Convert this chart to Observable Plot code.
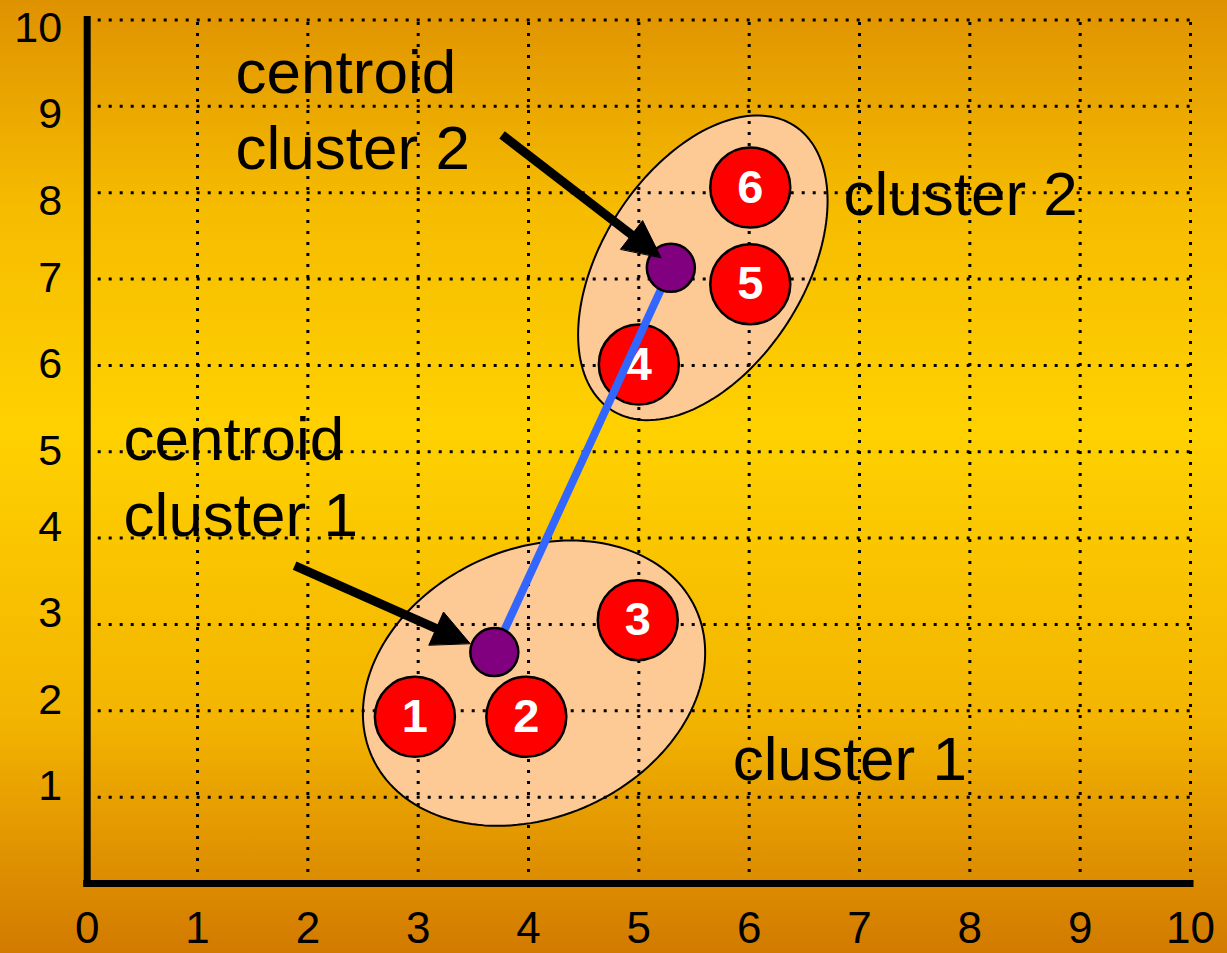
<!DOCTYPE html>
<html>
<head>
<meta charset="utf-8">
<script src="https://cdn.jsdelivr.net/npm/d3@7"></script>
<script src="https://cdn.jsdelivr.net/npm/@observablehq/plot@0.6"></script>
<style>
html, body { margin: 0; padding: 0; }
body { width: 1227px; height: 953px; overflow: hidden;
  background: linear-gradient(to bottom, #df9200 0%, #f6bc00 22%, #ffd100 45%, #f3b500 75%, #d27a00 100%); }
#chart svg { display: block; }
</style>
</head>
<body>
<div id="chart"></div>
<script>
// ---- data ----
const pointIds = [1, 2, 3, 4, 5, 6];
const pointX = [2.97, 3.98, 4.99, 5.0, 6.01, 6.01];
const pointY = [1.93, 1.93, 3.05, 6.01, 6.94, 8.06];

const centroidNames = ["cluster 1", "cluster 2"];
const centroidX = [3.69, 5.29];
const centroidY = [2.68, 7.13];

const ellipseNames = ["cluster 1", "cluster 2"];
const ellipseCX = [4.05, 5.58];
const ellipseCY = [2.32, 7.13];

const arrowX1 = [1.88, 3.76];
const arrowY1 = [3.68, 8.67];
const arrowX2 = [3.47, 5.20];
const arrowY2 = [2.78, 7.25];

const labelTexts = ["centroid\ncluster 1", "centroid\ncluster 2", "cluster 1", "cluster 2"];
const labelX = [0.33, 1.345, 5.85, 6.855];
const labelY = [4.03, 8.28, 1.20, 7.74];

const xTicks = [0, 1, 2, 3, 4, 5, 6, 7, 8, 9, 10];
const yTicks = [1, 2, 3, 4, 5, 6, 7, 8, 9, 10];

// ---- layout / styles ----
const W = 1227, H = 953;
const mL = 86.7, mR = 37, mT = 19.5, mB = 70;
const kx = (W - mL - mR) / 10;   // px per x unit
const ky = (H - mT - mB) / 10;   // px per y unit
const FONT = "Liberation Sans, Arial, Helvetica, sans-serif";

// ellipse shape in pixels (semi-axes, rotation in degrees counter-clockwise)
const ellipseShape = [{a: 178, b: 134, angle: 24.7}, {a: 169, b: 101, angle: 57.3}];

const points = pointIds.map((id, i) => ({id, x: pointX[i], y: pointY[i]}));
const centroids = centroidNames.map((n, i) => ({n, x: centroidX[i], y: centroidY[i]}));
const labels = labelTexts.map((t, i) => ({t, x: labelX[i], y: labelY[i]}));

// build ellipse outlines (geometry only)
const ellipsePts = [];
ellipseNames.forEach((name, i) => {
  const {a, b, angle} = ellipseShape[i];
  const th = angle * Math.PI / 180;
  for (let k = 0; k < 160; k++) {
    const t = 2 * Math.PI * k / 160;
    const dx = a * Math.cos(t) * Math.cos(th) - b * Math.sin(t) * Math.sin(th);
    const dy = a * Math.cos(t) * Math.sin(th) + b * Math.sin(t) * Math.cos(th);
    ellipsePts.push({id: name, x: ellipseCX[i] + dx / kx, y: ellipseCY[i] + dy / ky});
  }
});

// arrows: shaft + filled triangular head (geometry in px converted to data)
const headLen = 37, headHalf = 18;
const shafts = [], heads = [];
arrowX1.forEach((_, i) => {
  const px1 = arrowX1[i] * kx, py1 = arrowY1[i] * ky;
  const px2 = arrowX2[i] * kx, py2 = arrowY2[i] * ky;
  const L = Math.hypot(px2 - px1, py2 - py1);
  const ux = (px2 - px1) / L, uy = (py2 - py1) / L;
  const bx = px2 - ux * headLen, by = py2 - uy * headLen;
  shafts.push({x1: arrowX1[i], y1: arrowY1[i], x2: (bx + ux * 4) / kx, y2: (by + uy * 4) / ky});
  heads.push({id: i, x: arrowX2[i], y: arrowY2[i]});
  heads.push({id: i, x: (bx - uy * headHalf) / kx, y: (by + ux * headHalf) / ky});
  heads.push({id: i, x: (bx + uy * headHalf) / kx, y: (by - ux * headHalf) / ky});
});

const yLabelStyle = {x: 0, y: d => d, text: d => String(d), dx: -25, textAnchor: "end",
  lineAnchor: "bottom", fontSize: 43, fill: "black", fontFamily: FONT};

const chart = Plot.plot({
  width: W, height: H,
  marginLeft: mL, marginRight: mR, marginTop: mT, marginBottom: mB,
  x: {domain: [0, 10], axis: null},
  y: {domain: [0, 10], axis: null},
  style: {background: "transparent", fontFamily: FONT, overflow: "visible"},
  marks: [
    Plot.line(ellipsePts, {x: "x", y: "y", z: "id", curve: "linear-closed",
      fill: "#fdc995", stroke: "black", strokeWidth: 2}),
    Plot.text(labels, {x: "x", y: "y", text: "t", textAnchor: "start", lineAnchor: "bottom",
      fontSize: 62, lineHeight: 1.226, fill: "black", fontFamily: FONT}),
    Plot.ruleY(yTicks, {x1: 0, x2: 10, stroke: "black", strokeWidth: 3, strokeDasharray: "3,8"}),
    Plot.ruleX(xTicks.filter(d => d > 0), {y1: 0, y2: 10, stroke: "black", strokeWidth: 3, strokeDasharray: "3,8"}),
    Plot.ruleX([0], {y1: 0, y2: 10, stroke: "black", strokeWidth: 7, strokeLinecap: "square"}),
    Plot.ruleY([0], {x1: 0, x2: 10, stroke: "black", strokeWidth: 7, strokeLinecap: "square"}),
    Plot.dot(points, {x: "x", y: "y", r: 40, fill: "#ff0000", stroke: "black", strokeWidth: 2.5}),
    Plot.text(points, {x: "x", y: "y", text: d => String(d.id), fill: "white", fontWeight: "bold",
      fontSize: 47, fontFamily: FONT}),
    Plot.line(centroids, {x: "x", y: "y", stroke: "#3366ff", strokeWidth: 8}),
    Plot.dot(centroids, {x: "x", y: "y", r: 24, fill: "#800080", stroke: "black", strokeWidth: 2.5}),
    Plot.link(shafts, {x1: "x1", y1: "y1", x2: "x2", y2: "y2", stroke: "black", strokeWidth: 9}),
    Plot.line(heads, {x: "x", y: "y", z: "id", curve: "linear-closed", fill: "black", stroke: "black", strokeWidth: 1}),
    Plot.text(xTicks, {x: d => d, y: 0, text: d => String(d), dy: 59, lineAnchor: "bottom",
      fontSize: 44, fill: "black", fontFamily: FONT}),
    Plot.text(yTicks.filter(d => d >= 8), {...yLabelStyle, dy: 22}),
    Plot.text(yTicks.filter(d => d >= 5 && d < 8), {...yLabelStyle, dy: 13}),
    Plot.text(yTicks.filter(d => d < 5), {...yLabelStyle, dy: 3})
  ]
});
document.getElementById("chart").appendChild(chart);
</script>
</body>
</html>
